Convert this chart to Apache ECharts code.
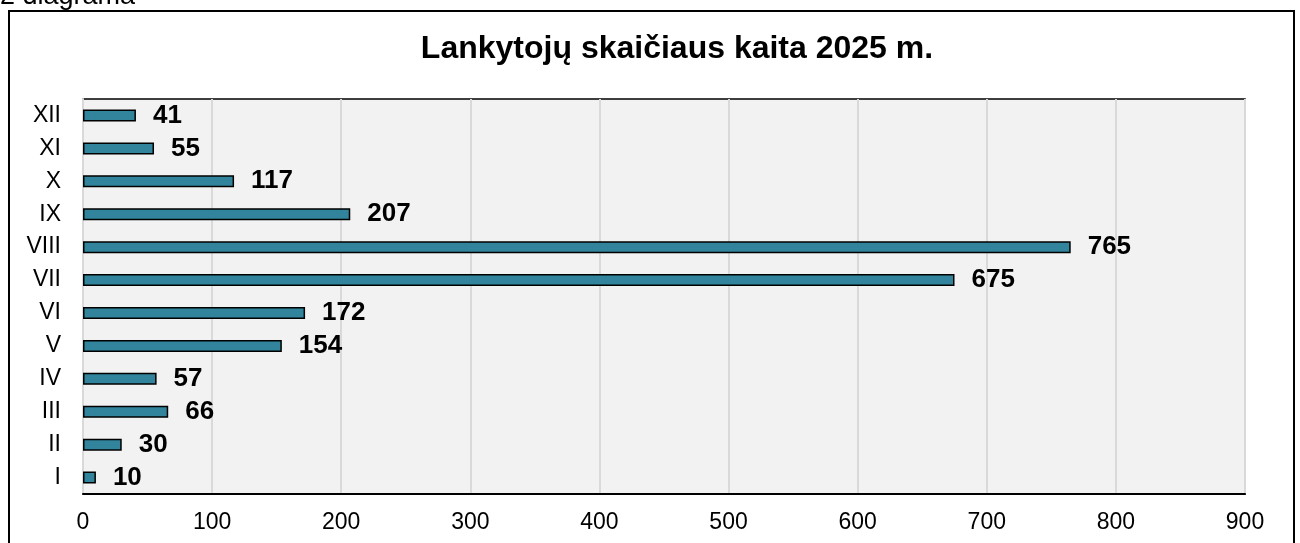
<!DOCTYPE html>
<html>
<head>
<meta charset="utf-8">
<script src="https://cdn.jsdelivr.net/npm/echarts@6/dist/echarts.min.js"></script>
<style>
  html, body { margin: 0; padding: 0; background: #fff; }
  #chart { width: 1300px; height: 543px; }
</style>
</head>
<body>
<div id="chart"></div>
<script>
const months = ['I', 'II', 'III', 'IV', 'V', 'VI', 'VII', 'VIII', 'IX', 'X', 'XI', 'XII'];
const visitors = [10, 30, 66, 57, 154, 172, 675, 765, 207, 117, 55, 41];
const xTicks = [0, 100, 200, 300, 400, 500, 600, 700, 800, 900];

const chart = echarts.init(document.getElementById('chart'));

const option = {
  backgroundColor: '#fff',
  animation: false,
  textStyle: { fontFamily: 'Liberation Sans, Arial, sans-serif' },
  title: {
    text: 'Lankytojų skaičiaus kaita 2025 m.',
    left: 672,
    textAlign: 'center',
    top: 28,
    textStyle: { fontSize: 32, fontWeight: 'bold', color: '#000' }
  },
  graphic: [
    {
      type: 'rect',
      shape: { x: 9, y: 11, width: 1285, height: 560 },
      style: { fill: 'none', stroke: '#000', lineWidth: 2 }
    },
    {
      type: 'text',
      x: 0,
      y: 10,
      style: {
        text: '2 diagrama',
        fontSize: 27,
        fill: '#000',
        verticalAlign: 'bottom',
        fontFamily: 'Liberation Sans, Arial, sans-serif'
      }
    }
  ],
  grid: {
    left: 83,
    right: 55,
    top: 99,
    bottom: 49,
    show: true,
    backgroundColor: '#f2f2f2',
    borderColor: '#000',
    borderWidth: 1.5
  },
  xAxis: {
    type: 'value',
    min: xTicks[0],
    max: xTicks[xTicks.length - 1],
    interval: 100,
    axisLine: { show: true, lineStyle: { color: '#000', width: 2 } },
    axisTick: { show: false },
    axisLabel: { fontSize: 23, color: '#000', margin: 17 },
    splitLine: { show: true, lineStyle: { color: '#d9d9d9', width: 2 } }
  },
  yAxis: {
    type: 'category',
    data: months,
    axisLine: { show: true, lineStyle: { color: '#d9d9d9', width: 2 } },
    axisTick: { show: false },
    axisLabel: { fontSize: 23, color: '#000', margin: 22 }
  },
  series: [
    {
      type: 'bar',
      data: visitors,
      barWidth: 12,
      itemStyle: { color: '#31849b', borderColor: '#000', borderWidth: 1.5 },
      label: {
        show: true,
        position: 'right',
        distance: 17,
        fontSize: 26,
        fontWeight: 'bold',
        color: '#000'
      }
    }
  ]
};

chart.setOption(option);
</script>
</body>
</html>
